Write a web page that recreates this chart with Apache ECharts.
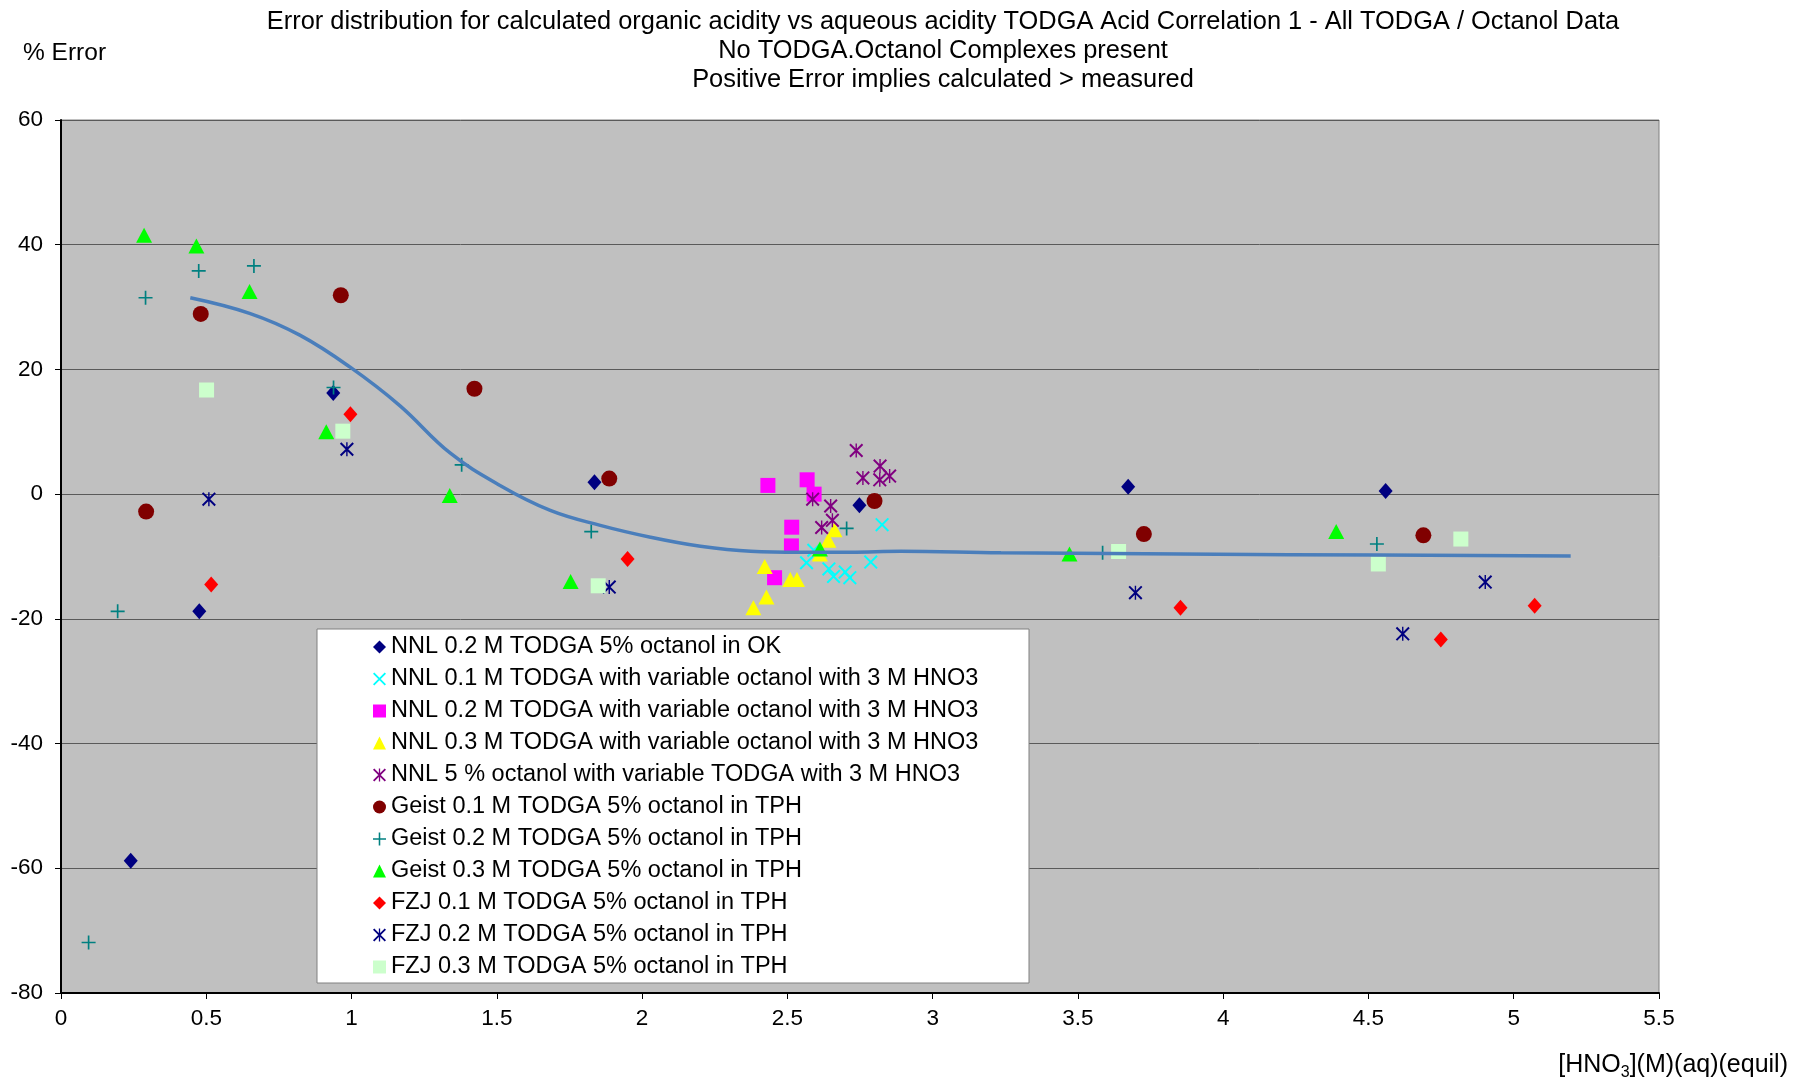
<!DOCTYPE html>
<html>
<head>
<meta charset="utf-8">
<script src="https://cdn.jsdelivr.net/npm/echarts@6/dist/echarts.min.js"></script>
<style>
html,body{margin:0;padding:0;background:#fff;}
#chart{width:1800px;height:1081px;}
</style>
</head>
<body>
<div id="chart"></div>
<script>
// ---- Data (x = [HNO3] aq equil in M, y = % error) ----
const seriesNames = [
  "NNL 0.2 M TODGA 5% octanol in OK",
  "NNL 0.1 M TODGA with variable octanol with 3 M HNO3",
  "NNL 0.2 M TODGA with variable octanol with 3 M HNO3",
  "NNL 0.3 M TODGA with variable octanol with 3 M HNO3",
  "NNL 5 % octanol with variable TODGA with 3 M HNO3",
  "Geist 0.1 M TODGA 5% octanol in TPH",
  "Geist 0.2 M TODGA 5% octanol in TPH",
  "Geist 0.3 M TODGA 5% octanol in TPH",
  "FZJ 0.1 M TODGA 5% octanol in TPH",
  "FZJ 0.2 M TODGA 5% octanol in TPH",
  "FZJ 0.3 M TODGA 5% octanol in TPH"
];
const nnl02OK = [[0.240,-58.8],[0.476,-18.8],[0.937,16.2],[1.836,1.9],[2.748,-1.8],[3.673,1.2],[4.559,0.5]];
const nnl01Var = [[2.566,-11.0],[2.591,-9.0],[2.643,-12.0],[2.659,-13.2],[2.699,-12.5],[2.715,-13.4],[2.787,-10.9],[2.826,-4.9]];
const nnl02Var = [[2.433,1.4],[2.568,2.3],[2.592,0.0],[2.515,-5.3],[2.514,-8.3],[2.456,-13.4]];
const nnl03Var = [[2.383,-18.2],[2.428,-16.5],[2.422,-11.6],[2.510,-13.7],[2.533,-13.7],[2.612,-9.6],[2.641,-7.4],[2.662,-5.7]];
const nnl5Oct = [[2.737,7.0],[2.587,-0.8],[2.649,-1.9],[2.655,-4.2],[2.618,-5.35],[2.760,2.6],[2.819,4.5],[2.818,2.3],[2.852,2.9]];
const geist01 = [[0.293,-2.8],[0.481,28.9],[0.963,31.9],[1.423,16.9],[1.887,2.5],[2.800,-1.1],[3.727,-6.4],[4.689,-6.6]];
const geist02 = [[0.095,-71.9],[0.195,-18.8],[0.291,31.5],[0.474,35.8],[0.664,36.6],[0.938,17.1],[1.379,4.7],[1.825,-6.0],[2.704,-5.5],[3.585,-9.4],[4.529,-8.0]];
const geist03 = [[0.286,41.5],[0.466,39.8],[0.649,32.5],[0.913,10.0],[1.338,-0.2],[1.754,-14.0],[2.612,-8.8],[3.471,-9.6],[4.389,-6.0]];
const fzj01 = [[0.517,-14.5],[0.996,12.8],[1.950,-10.4],[3.853,-18.2],[4.749,-23.3],[5.072,-17.9]];
const fzj02 = [[0.509,-0.8],[0.984,7.2],[1.887,-14.9],[3.698,-15.8],[4.618,-22.4],[4.902,-14.1]];
const fzj03 = [[0.501,16.7],[0.970,10.1],[1.849,-14.7],[3.640,-9.2],[4.534,-11.2],[4.818,-7.2]];
const correlationCurve = [[0.445,31.5],[0.649,29.0],[0.822,25.5],[0.994,20.4],[1.166,14.2],[1.339,6.6],[1.511,1.4],[1.684,-2.6],[1.856,-5.0],[2.029,-6.9],[2.201,-8.35],[2.374,-9.15],[2.546,-9.3],[2.718,-9.3],[2.890,-9.15],[3.235,-9.4],[4.225,-9.7],[5.196,-9.9]];
const titleLines = [
  "Error distribution for calculated organic acidity vs aqueous acidity TODGA Acid Correlation 1 - All TODGA / Octanol Data",
  "No TODGA.Octanol Complexes present",
  "Positive Error implies calculated > measured"
];

// ---- Styling ----
const FONT = "'Liberation Sans', Arial, sans-serif";
const PLUS = 'path://M44,0H56V44H100V56H56V100H44V56H0V44H44Z';
const CROSS = 'path://M0,10L10,0L100,90L90,100ZM90,0L100,10L10,100L0,90Z';
const STAR = 'path://M0,10L10,0L100,90L90,100ZM90,0L100,10L10,100L0,90ZM45,0H55V100H45Z';

const styles = [
  {symbol:'diamond', size:[14,16], color:'#000080'},
  {symbol:CROSS, size:14, color:'#00FFFF'},
  {symbol:'rect', size:15, color:'#FF00FF'},
  {symbol:'triangle', size:[16,15], color:'#FFFF00'},
  {symbol:STAR, size:14, color:'#800080'},
  {symbol:'circle', size:16, color:'#800000'},
  {symbol:PLUS, size:14, color:'#008080'},
  {symbol:'triangle', size:[16,15], color:'#00FF00'},
  {symbol:'diamond', size:[14,16], color:'#FF0000'},
  {symbol:STAR, size:14, color:'#000080'},
  {symbol:'rect', size:15, color:'#CCFFCC'}
];
const dataSets = [nnl02OK, nnl01Var, nnl02Var, nnl03Var, nnl5Oct, geist01, geist02, geist03, fzj01, fzj02, fzj03];

const series = dataSets.map((d, i) => ({
  name: seriesNames[i],
  type: 'scatter',
  data: d,
  symbol: styles[i].symbol,
  symbolSize: styles[i].size,
  itemStyle: {color: styles[i].color, opacity: 1},
  z: 3
}));
series.push({
  name: 'Correlation',
  type: 'line',
  data: correlationCurve,
  smooth: 0.4,
  showSymbol: false,
  symbol: 'none',
  lineStyle: {color: '#4A7EBB', width: 3.5},
  z: 4
});

const chart = echarts.init(document.getElementById('chart'), null, {renderer: 'canvas'});
chart.setOption({
  animation: false,
  backgroundColor: '#ffffff',
  grid: {
    left: 61, top: 120, width: 1598, height: 873,
    show: true, backgroundColor: '#C0C0C0', borderColor: '#808080', borderWidth: 1
  },
  xAxis: {
    type: 'value', min: 0, max: 5.5, interval: 0.5,
    axisLine: {show: true, onZero: false, lineStyle: {color: '#000', width: 2}},
    axisTick: {show: true, length: 6, lineStyle: {color: '#000'}},
    axisLabel: {color: '#000', fontSize: 22.5, fontFamily: FONT, margin: 14},
    splitLine: {show: false}
  },
  yAxis: {
    type: 'value', min: -80, max: 60, interval: 20,
    axisLine: {show: true, onZero: false, lineStyle: {color: '#000', width: 2}},
    axisTick: {show: true, length: 6, lineStyle: {color: '#000'}},
    axisLabel: {color: '#000', fontSize: 22.5, fontFamily: FONT, margin: 18},
    splitLine: {show: true, lineStyle: {color: '#5a5a5a', width: 1}}
  },
  legend: {
    data: seriesNames,
    orient: 'vertical',
    left: 373, top: 631,
    padding: 0,
    itemGap: 0,
    itemWidth: 13, itemHeight: 13,
    textStyle: {color: '#000', fontSize: 23.5, fontFamily: FONT, lineHeight: 32},
    z: 10
  },
  graphic: [
    {type: 'rect', shape: {x: 317, y: 629, width: 712, height: 354}, style: {fill: '#ffffff', stroke: '#808080', lineWidth: 1}, z: 5, silent: true},
    {type: 'text', x: 943, y: 7, style: {text: titleLines.join('\n'), textAlign: 'center', textVerticalAlign: 'top', fill: '#000', font: '25.4px ' + FONT, lineHeight: 29}, z: 10},
    {type: 'text', x: 23, y: 53, style: {text: '% Error', textAlign: 'left', textVerticalAlign: 'middle', fill: '#000', font: '24.5px ' + FONT}, z: 10},
    {type: 'text', x: 1788, y: 1049, style: {
      text: '{n|[HNO}{s|3}{n|](M)(aq)(equil)}', textAlign: 'right', textVerticalAlign: 'top', fill: '#000',
      rich: {
        n: {fontSize: 25, fontFamily: FONT, lineHeight: 32, verticalAlign: 'middle', fill: '#000'},
        s: {fontSize: 16, fontFamily: FONT, verticalAlign: 'bottom', fill: '#000'}
      }
    }, z: 10}
  ],
  series: series
});
</script>
</body>
</html>
